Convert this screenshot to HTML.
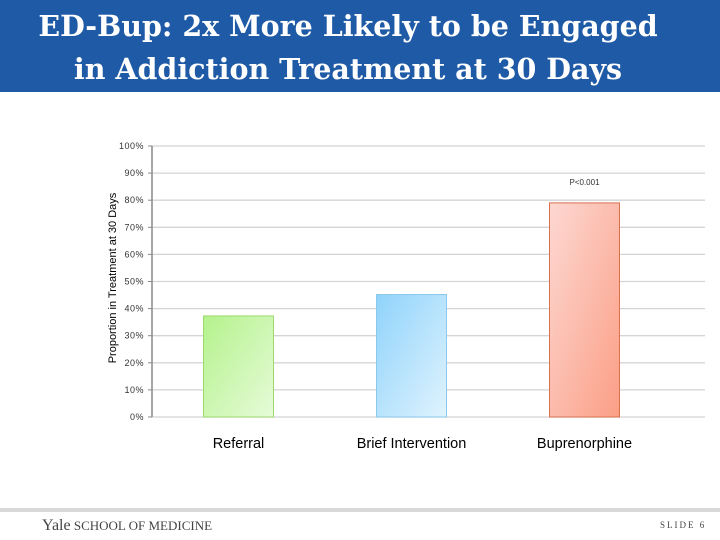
<!DOCTYPE html>
<html><head><meta charset="utf-8"><style>
body{margin:0;width:720px;height:540px;background:#fff;overflow:hidden;font-family:"Liberation Sans",sans-serif;position:relative}
#banner{position:absolute;left:0;top:0;width:720px;height:92px;background:#1e5aa6}
#title{position:absolute;left:0;top:5px;width:696px;text-align:center;color:#fff;font-family:"DejaVu Serif","Liberation Serif",serif;font-weight:bold;font-size:28.5px;line-height:43px}
#foot-bar{position:absolute;left:0;top:508px;width:720px;height:4px;background:#d8d8d8}
#yale{position:absolute;left:42px;top:517px;font-family:"Liberation Serif",serif;font-size:13px;color:#444}
#slide{position:absolute;left:660px;top:520px;font-family:"Liberation Serif",serif;font-size:9px;letter-spacing:2px;color:#444}
svg{position:absolute;left:0;top:0}
</style></head><body>
<div id="banner"></div>
<div id="title">ED-Bup: 2x More Likely to be Engaged<br>in Addiction Treatment at 30 Days</div>
<svg id="chart" width="720" height="540">
<defs>
<linearGradient id="g0" x1="0" y1="0" x2="1" y2="1"><stop offset="0" stop-color="#b4f28c"/><stop offset="1" stop-color="#e6fbd8"/></linearGradient>
<linearGradient id="g1" x1="0" y1="0" x2="1" y2="1"><stop offset="0" stop-color="#8fd3fb"/><stop offset="1" stop-color="#e0f3fe"/></linearGradient>
<linearGradient id="g2" x1="0" y1="0" x2="1" y2="1"><stop offset="0" stop-color="#fdd8d2"/><stop offset="1" stop-color="#fb9f86"/></linearGradient>
</defs>
</svg>
<div id="foot-bar"></div>
<div id="yale"><span style="font-size:16px">Yale</span> SCHOOL OF MEDICINE</div>
<div id="slide">SLIDE 6</div>
<script>
const categories=["Referral","Brief Intervention","Buprenorphine"];
const values=[37.3,45.2,79];
const ticks=[0,10,20,30,40,50,60,70,80,90,100];
const tickLabels=["0%","10%","20%","30%","40%","50%","60%","70%","80%","90%","100%"];
const annotation="P<0.001";
const fills=["url(#g0)","url(#g1)","url(#g2)"];
const strokes=["#9ed86e","#8ac8ec","#d9704f"];
const svg=document.getElementById('chart');const NS="http://www.w3.org/2000/svg";
const x0=152,x1=705,yb=417,yt=146;
const y=v=>yb-(v/100)*(yb-yt);
const bw=173;
const xc=i=>x0+bw*(i+0.5);
function mk(t,a){const e=document.createElementNS(NS,t);for(const k in a)e.setAttribute(k,a[k]);svg.appendChild(e);return e;}
ticks.forEach((t,i)=>{
 const l=mk('line',{x1:x0,x2:x1,y1:y(t),y2:y(t),stroke:'#d4d4d4','stroke-width':1.3});
 
 
 const tk=mk('line',{x1:x0-4,x2:x0,y1:y(t),y2:y(t),stroke:'#888'});
 
 
 const tx=mk('text',{x:x0-8,y:y(t)+3,'text-anchor':'end','font-size':9,fill:'#333','letter-spacing':'0.5'});
 tx.textContent=tickLabels[i];
 
 
});
const ax=mk('line',{x1:x0,x2:x0,y1:yt,y2:yb,stroke:'#888','stroke-width':1.5});


categories.forEach((c,i)=>{
 const w=70;
 const r=mk('rect',{x:xc(i)-w/2,y:y(values[i]),width:w,height:yb-y(values[i]),fill:fills[i],stroke:strokes[i]});
 
 
 const t=mk('text',{x:xc(i),y:448,'text-anchor':'middle','font-size':14.5,fill:'#000'});
 t.textContent=c;
 
 
});
const an=mk('text',{x:xc(2),y:y(values[2])-18,'text-anchor':'middle','font-size':8,fill:'#333'});
an.textContent=annotation;


const yt2=mk('text',{x:0,y:0,transform:'translate(116,278) rotate(-90)','text-anchor':'middle','font-size':11,fill:'#000'});
yt2.textContent="Proportion in Treatment at 30 Days";


</script>
</body></html>
